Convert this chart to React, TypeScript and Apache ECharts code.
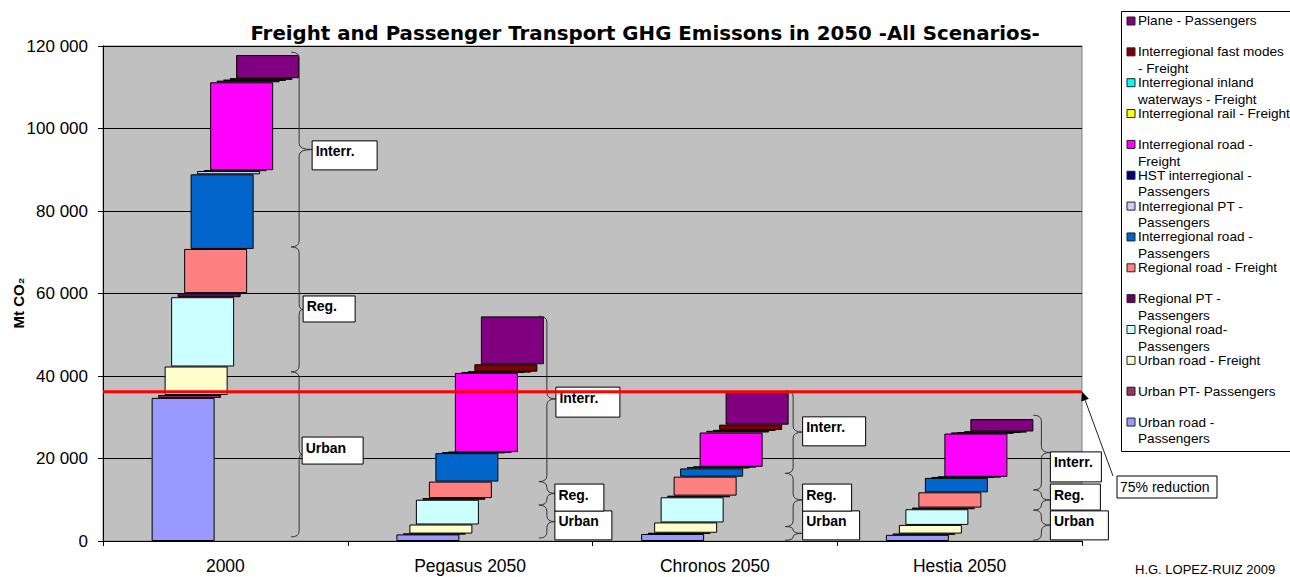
import React, { useEffect, useRef } from 'react';
import * as echarts from 'echarts';

// ---------------- DATA (Mt CO2) ----------------
const CATEGORIES = ['2000', 'Pegasus 2050', 'Chronos 2050', 'Hestia 2050'];

// stacked from bottom to top
const URBAN_ROAD_PASSENGERS = [34700, 1600, 1700, 1500];
const URBAN_PT_PASSENGERS = [700, 200, 300, 300];
const URBAN_ROAD_FREIGHT = [6900, 2200, 2500, 2100];
const REGIONAL_ROAD_PASSENGERS = [16800, 6000, 6100, 3800];
const REGIONAL_PT_PASSENGERS = [1000, 400, 400, 400];
const REGIONAL_ROAD_FREIGHT = [10700, 4000, 4600, 3700];
const INTERREGIONAL_ROAD_PASSENGERS = [18100, 6900, 2000, 3500];
const INTERREGIONAL_PT_PASSENGERS = [800, 200, 300, 200];
const HST_INTERREGIONAL_PASSENGERS = [200, 50, 100, 50];
const INTERREGIONAL_ROAD_FREIGHT = [21300, 19200, 8300, 10500];
const INTERREGIONAL_RAIL_FREIGHT = [400, 200, 400, 200];
const INTERREGIONAL_WATERWAYS_FREIGHT = [200, 100, 200, 100];
const INTERREGIONAL_FAST_FREIGHT = [400, 1800, 1300, 200];
const PLANE_PASSENGERS = [5600, 11600, 8000, 3000];

const SERIES_NAMES = [
  'Urban road -\nPassengers',
  'Urban PT- Passengers',
  'Urban road - Freight',
  'Regional road-\nPassengers',
  'Regional PT -\nPassengers',
  'Regional road - Freight',
  'Interregional road -\nPassengers',
  'Interregional PT -\nPassengers',
  'HST interregional -\nPassengers',
  'Interregional road -\nFreight',
  'Interregional rail - Freight',
  'Interregional inland\nwaterways - Freight',
  'Interregional fast modes\n- Freight',
  'Plane - Passengers',
];

const SERIES_VALUES = [
  URBAN_ROAD_PASSENGERS,
  URBAN_PT_PASSENGERS,
  URBAN_ROAD_FREIGHT,
  REGIONAL_ROAD_PASSENGERS,
  REGIONAL_PT_PASSENGERS,
  REGIONAL_ROAD_FREIGHT,
  INTERREGIONAL_ROAD_PASSENGERS,
  INTERREGIONAL_PT_PASSENGERS,
  HST_INTERREGIONAL_PASSENGERS,
  INTERREGIONAL_ROAD_FREIGHT,
  INTERREGIONAL_RAIL_FREIGHT,
  INTERREGIONAL_WATERWAYS_FREIGHT,
  INTERREGIONAL_FAST_FREIGHT,
  PLANE_PASSENGERS,
];

const Y_MIN = 0;
const Y_MAX = 120000;
const Y_INTERVAL = 20000;
const Y_NAME = 'Mt CO₂';

const TARGET_VALUE = 36200; // "75% reduction" line
const TARGET_LABEL = '75% reduction';
const GROUP_LABELS = ['Urban', 'Reg.', 'Interr.'];
// brace bounds per scenario: [bottom, urban top, regional top, interregional top]
const BRACE_BOUNDS = [
  [1000, 41000, 71300, 118500],
  [700, 8700, 14400, 54500],
  [200, 3500, 16400, 36400],
  [200, 7500, 12400, 30500],
];
// label box tops per scenario (value units): [Urban, Reg., Interr.]
const LABEL_TOPS = [
  [25200, 59400, 97000],
  [7300, 13800, 37300],
  [7300, 13800, 30100],
  [7300, 13800, 21600],
];

// ---------------- STYLE ----------------
const COLORS = [
  '#9999FF', '#993366', '#FFFFCC', '#CCFFFF', '#660066', '#FF8080', '#0066CC',
  '#CCCCFF', '#000080', '#FF00FF', '#FFFF00', '#00FFFF', '#800000', '#800080',
];
const FONT = '"Liberation Sans", Arial, Helvetica, sans-serif';
const TITLE_FONT = '"DejaVu Sans", "Liberation Sans", Arial, sans-serif';
const BAR_WIDTH = 63;
const BAR_STEP = 6.5;
const GROUP_HALF = (BAR_WIDTH + (SERIES_VALUES.length - 1) * BAR_STEP) / 2;
const BAR_GAP = ((BAR_STEP - BAR_WIDTH) / BAR_WIDTH) * 100 + '%';
const BRACE_DX = [0, 3, 4.5, 8];
// label box layout per scenario: [leftOffset, width, height] for Urban, Reg., Interr.
const BOX_LAYOUT = [
  [[3, 61, 27], [4, 52, 26], [13, 65, 29]],
  [[11, 57, 29], [11, 49, 27], [12, 64, 30]],
  [[14, 57, 29], [14, 49, 27], [14, 63, 29]],
  [[17, 58, 29], [17, 50, 26], [17, 51, 30]],
];

function fmt(v: number) {
  return String(v).replace(/\B(?=(\d{3})+(?!\d))/g, ' ');
}

function bracePath(xv: number, y1: number, y2: number, tipX: number, hook: number) {
  const ym = (y1 + y2) / 2;
  const r = Math.min(6, (y2 - y1) / 4);
  return (
    `M${xv - hook},${y1} Q${xv},${y1} ${xv},${y1 + r} L${xv},${ym - r} ` +
    `Q${xv},${ym} ${tipX},${ym} Q${xv},${ym} ${xv},${ym + r} L${xv},${y2 - r} ` +
    `Q${xv},${y2} ${xv - hook},${y2}`
  );
}

export default function App() {
  const ref = useRef<HTMLDivElement>(null);

  useEffect(() => {
    if (!ref.current) return;
    const chart = echarts.init(ref.current, null, { renderer: 'svg' });

    const series: any[] = [];
    SERIES_VALUES.forEach((vals, s) => {
      const base = CATEGORIES.map((_, c) =>
        SERIES_VALUES.slice(0, s).reduce((acc, arr) => acc + arr[c], 0)
      );
      series.push({
        type: 'bar',
        name: '_base' + s,
        stack: 'st' + s,
        data: base,
        barWidth: BAR_WIDTH,
        barGap: BAR_GAP,
        silent: true,
        itemStyle: { color: 'rgba(0,0,0,0)', borderWidth: 0 },
        emphasis: { disabled: true },
      });
      series.push({
        type: 'bar',
        name: SERIES_NAMES[s],
        stack: 'st' + s,
        data: vals,
        barWidth: BAR_WIDTH,
        barGap: BAR_GAP,
        itemStyle: { color: COLORS[s], borderColor: '#000', borderWidth: 1 },
        emphasis: { disabled: true },
      });
    });

    // braces + group labels
    series.push({
      type: 'custom',
      name: 'braces',
      silent: true,
      clip: false,
      z: 4,
      data: CATEGORIES.map((_, i) => [i, 0]),
      encode: { x: 0, y: 1 },
      renderItem: (params: any, api: any) => {
        const i = params.dataIndex;
        const cx = api.coord([i, 0])[0];
        const right = cx + GROUP_HALF;
        const xv = right + BRACE_DX[i];
        const b = BRACE_BOUNDS[i];
        const children: any[] = [];
        for (let g = 0; g < 3; g++) {
          const y2 = api.coord([i, b[g]])[1];
          const y1 = api.coord([i, b[g + 1]])[1];
          const [lo, w, h] = BOX_LAYOUT[i][g];
          const boxX = right + lo;
          children.push({
            type: 'path',
            shape: { pathData: bracePath(xv, y1, y2, boxX, 8) },
            style: { fill: 'none', stroke: '#333', lineWidth: 1 },
          });
          const top = api.coord([i, LABEL_TOPS[i][g]])[1];
          children.push({
            type: 'rect',
            shape: { x: boxX, y: top, width: w, height: h },
            style: { fill: '#fff', stroke: '#000', lineWidth: 1 },
          });
          children.push({
            type: 'text',
            x: boxX + 3.5,
            y: top + 10.5,
            style: {
              text: GROUP_LABELS[g],
              fontSize: 14,
              fontWeight: 'bold',
              fontFamily: FONT,
              fill: '#000',
              verticalAlign: 'middle',
              align: 'left',
            },
          });
        }
        return { type: 'group', children };
      },
    });

    // red target line + arrow annotation
    series.push({
      type: 'custom',
      name: 'target',
      silent: true,
      clip: false,
      z: 6,
      data: [[0, TARGET_VALUE]],
      encode: { x: 0, y: 1 },
      renderItem: (params: any, api: any) => {
        const cs = params.coordSys;
        const y = api.coord([0, TARGET_VALUE])[1];
        const x0 = cs.x;
        const x1 = cs.x + cs.width;
        const sx = 1113;
        const sy = 476;
        const dx = x1 - sx;
        const dy = y - sy;
        const len = Math.sqrt(dx * dx + dy * dy);
        const ux = dx / len;
        const uy = dy / len;
        const al = 9;
        const aw = 4;
        const bx = x1 - ux * al;
        const by = y - uy * al;
        return {
          type: 'group',
          children: [
            {
              type: 'line',
              shape: { x1: x0, y1: y, x2: x1, y2: y },
              style: { stroke: '#FF0000', lineWidth: 3 },
            },
            {
              type: 'line',
              shape: { x1: sx, y1: sy, x2: bx, y2: by },
              style: { stroke: '#222', lineWidth: 1 },
            },
            {
              type: 'polygon',
              shape: {
                points: [
                  [x1, y],
                  [bx - uy * aw, by + ux * aw],
                  [bx + uy * aw, by - ux * aw],
                ],
              },
              style: { fill: '#000' },
            },
            {
              type: 'rect',
              shape: { x: 1117, y: 476, width: 100, height: 22 },
              style: { fill: '#fff', stroke: '#000', lineWidth: 1 },
            },
            {
              type: 'text',
              x: 1120,
              y: 487,
              style: {
                text: TARGET_LABEL,
                fontSize: 14,
                fontFamily: FONT,
                fill: '#000',
                verticalAlign: 'middle',
                align: 'left',
              },
            },
          ],
        };
      },
    });

    // legend (drawn as graphic, top = last series)
    const legendEls: any[] = [
      {
        type: 'rect',
        shape: { x: 1121.5, y: 11.5, width: 200, height: 440 },
        style: { fill: '#fff', stroke: '#000', lineWidth: 1 },
      },
    ];
    const n = SERIES_NAMES.length;
    for (let k = 0; k < n; k++) {
      const s = n - 1 - k;
      const cy = 21 + k * 30.85;
      legendEls.push({
        type: 'rect',
        shape: { x: 1127, y: cy - 4, width: 8, height: 8 },
        style: { fill: COLORS[s], stroke: '#222', lineWidth: 1 },
      });
      legendEls.push({
        type: 'text',
        x: 1138,
        y: cy - 8.35,
        style: {
          text: SERIES_NAMES[s],
          fontSize: 13.6,
          fontFamily: FONT,
          fill: '#000',
          lineHeight: 16.7,
          verticalAlign: 'top',
          align: 'left',
        },
      });
    }
    legendEls.push({
      type: 'text',
      x: 1135,
      y: 569,
      style: {
        text: 'H.G. LOPEZ-RUIZ 2009',
        fontSize: 13,
        fontFamily: FONT,
        fill: '#000',
        verticalAlign: 'middle',
        align: 'left',
      },
    });
    // y axis title
    legendEls.push({
      type: 'text',
      x: 18,
      y: 303,
      rotation: Math.PI / 2,
      style: {
        text: Y_NAME,
        fontSize: 15,
        fontWeight: 'bold',
        fontFamily: FONT,
        fill: '#000',
        verticalAlign: 'middle',
        align: 'center',
      },
    });

    chart.setOption({
      animation: false,
      backgroundColor: '#fff',
      textStyle: { fontFamily: FONT },
      title: {
        text: 'Freight and Passenger Transport GHG Emissons in 2050 -All Scenarios-',
        left: 'center',
        top: 18,
        textStyle: { fontSize: 19.8, fontWeight: 'bold', fontFamily: TITLE_FONT, color: '#000' },
      },
      grid: {
        left: 103,
        right: 208,
        top: 46,
        bottom: 36,
        show: true,
        outerBoundsMode: 'none',
        backgroundColor: '#C0C0C0',
        borderColor: '#808080',
        borderWidth: 1,
      },
      xAxis: {
        type: 'category',
        data: CATEGORIES,
        boundaryGap: true,
        axisLine: { show: true, lineStyle: { color: '#000', width: 1 } },
        axisTick: { show: true, length: 5, alignWithLabel: false, lineStyle: { color: '#000' } },
        axisLabel: { fontSize: 17.5, color: '#000', margin: 16, fontFamily: FONT },
        splitLine: { show: false },
      },
      yAxis: {
        type: 'value',
        min: Y_MIN,
        max: Y_MAX,
        interval: Y_INTERVAL,
        axisLine: { show: true, lineStyle: { color: '#000', width: 1 } },
        axisTick: { show: true, length: 5, lineStyle: { color: '#000' } },
        axisLabel: { fontSize: 17, color: '#000', margin: 15, fontFamily: FONT, formatter: (v: number) => fmt(v) },
        splitLine: { show: true, lineStyle: { color: '#000', width: 1 } },
      },
      graphic: legendEls,
      series,
    });

    return () => chart.dispose();
  }, []);

  return (
    <div
      ref={ref}
      style={{ position: 'fixed', left: 0, top: 0, width: 1290, height: 577, background: '#fff' }}
    />
  );
}
